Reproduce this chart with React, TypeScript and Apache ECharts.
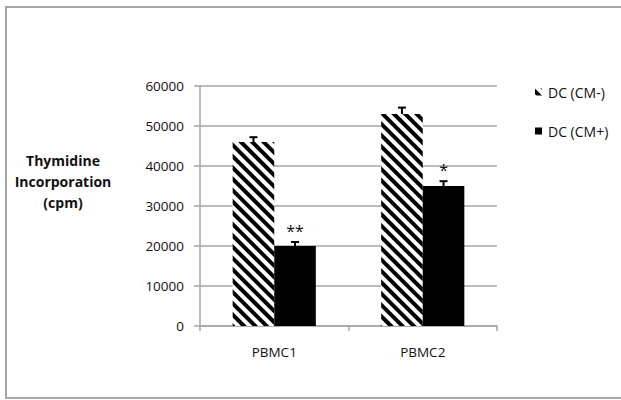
import React, { useEffect, useRef } from "react";
import * as echarts from "echarts";

const categories = ["PBMC1", "PBMC2"];
const seriesNames = ["DC (CM-)", "DC (CM+)"];
const cmMinus = [46000, 53000];
const cmPlus = [20000, 35000];
const errMinus = [1200, 1600];
const errPlus = [1000, 1200];
const sigMinus = ["", ""];
const sigPlus = ["**", "*"];
const yTicks = [0, 10000, 20000, 30000, 40000, 50000, 60000];
const yTitle = ["Thymidine", "Incorporation", "(cpm)"];

const FONT = "'Open Sans', 'Liberation Sans', sans-serif";
const BAR_W = 0.28;

export default function App() {
  const ref = useRef<HTMLDivElement>(null);
  useEffect(() => {
    document.body.style.margin = "0";
    const chart = echarts.init(ref.current!, null, { renderer: "svg" });
    const errData: any[] = [];
    categories.forEach((_, i) => {
      errData.push([i, cmMinus[i], errMinus[i], -1, sigMinus[i]]);
      errData.push([i, cmPlus[i], errPlus[i], 1, sigPlus[i]]);
    });
    chart.setOption({
      animation: false,
      backgroundColor: "#ffffff",
      graphic: [
        {
          type: "rect",
          shape: { x: 6, y: 7, width: 700, height: 391 },
          style: { fill: "none", stroke: "#a6a6a6", lineWidth: 2 },
          silent: true,
        },
        {
          type: "text",
          x: 63,
          y: 181,
          style: {
            text: yTitle.join("\n"),
            font: `bold 14px ${FONT}`,
            fill: "#111",
            align: "center",
            verticalAlign: "middle",
            lineHeight: 21,
          },
        },
      ],
      legend: {
        orient: "vertical",
        left: 530,
        top: 80,
        itemWidth: 7,
        itemHeight: 7,
        itemGap: 25,
        icon: "rect",
        textStyle: { fontFamily: FONT, fontSize: 14, color: "#111", padding: [0, 0, 0, 1] },
        data: seriesNames,
      },
      grid: { left: 200, top: 86, width: 297, height: 240, containLabel: false },
      xAxis: {
        type: "category",
        data: categories,
        axisLine: { lineStyle: { color: "#a6a6a6", width: 1.5 } },
        axisTick: { show: true, length: 5, lineStyle: { color: "#a6a6a6", width: 1.5 } },
        axisLabel: { fontFamily: FONT, fontSize: 13.5, color: "#111", margin: 19 },
      },
      yAxis: {
        type: "value",
        min: yTicks[0],
        max: yTicks[yTicks.length - 1],
        interval: 10000,
        axisLine: { show: true, lineStyle: { color: "#a6a6a6", width: 1.5 } },
        axisTick: { show: true, length: 6, lineStyle: { color: "#a6a6a6", width: 1.5 } },
        axisLabel: {
          fontFamily: FONT,
          fontSize: 13.5,
          color: "#111",
          margin: 16,
          formatter: (v: number) => String(v),
        },
        splitLine: { lineStyle: { color: "#a6a6a6", width: 1.5 } },
      },
      series: [
        {
          name: seriesNames[0],
          type: "bar",
          data: cmMinus,
          barWidth: BAR_W * 100 + "%",
          barGap: "0%",
          itemStyle: {
            color: "#ffffff",
            decal: {
              symbol: "rect",
              symbolSize: 1,
              color: "#000000",
              backgroundColor: "#ffffff",
              dashArrayX: [1, 0],
              dashArrayY: [3.6, 3.6],
              rotation: Math.PI / 4,
            },
          },
        },
        {
          name: seriesNames[1],
          type: "bar",
          data: cmPlus,
          barWidth: BAR_W * 100 + "%",
          barGap: "0%",
          itemStyle: { color: "#000000" },
        },
        {
          type: "custom",
          data: errData,
          z: 10,
          renderItem: (params: any, api: any) => {
            const x = api.value(0);
            const v = api.value(1);
            const e = api.value(2);
            const sign = api.value(3);
            const sig = errData[params.dataIndex][4];
            const band = api.size([1, 0])[0];
            const off = (sign * band * BAR_W) / 2;
            const top = api.coord([x, v + e]);
            const base = api.coord([x, v]);
            const cx = top[0] + off;
            const children: any[] = [
              {
                type: "line",
                shape: { x1: cx, y1: base[1], x2: cx, y2: top[1] },
                style: { stroke: "#000", lineWidth: 2 },
              },
              {
                type: "line",
                shape: { x1: cx - 4, y1: top[1], x2: cx + 4, y2: top[1] },
                style: { stroke: "#000", lineWidth: 2 },
              },
            ];
            if (sig) {
              children.push({
                type: "text",
                x: cx,
                y: top[1] - 3,
                style: {
                  text: sig,
                  font: `16px ${FONT}`,
                  fill: "#111",
                  align: "center",
                  verticalAlign: "bottom",
                },
              });
            }
            return { type: "group", children };
          },
        },
      ],
    });
    return () => chart.dispose();
  }, []);
  return <div ref={ref} style={{ width: 621, height: 400 }} />;
}
